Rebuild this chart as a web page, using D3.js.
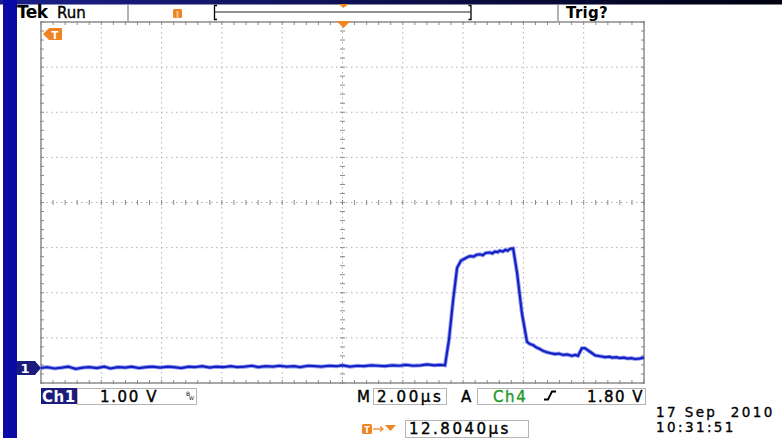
<!DOCTYPE html>
<html>
<head>
<meta charset="utf-8">
<script src="https://cdn.jsdelivr.net/npm/d3@7"></script>
<style>
  body { margin: 0; background: #fff; }
  svg { display: block; }
  text { font-family: "DejaVu Sans", sans-serif; }
</style>
</head>
<body>
<script>
// trace: time in µs from left edge, volts (1.00 V/div)
var traceTime = [0, 0.2, 0.45, 0.7, 0.9, 1.15, 1.4, 1.6, 1.85, 2.1, 2.3, 2.55, 2.8, 3.0, 3.25, 3.5, 3.7, 3.95, 4.2,
  4.4, 4.65, 4.9, 5.1, 5.35, 5.6, 5.8, 6.05, 6.3, 6.5, 6.75, 7.0, 7.2, 7.45, 7.7, 7.9, 8.15, 8.4, 8.6, 8.85,
  9.1, 9.3, 9.55, 9.8, 10.0, 10.25, 10.5, 10.7, 10.95, 11.2, 11.4, 11.65, 11.9, 12.1, 12.35, 12.6, 12.8, 13.05,
  13.25, 13.4,
  13.53, 13.67, 13.80, 13.93, 14.05, 14.15, 14.23, 14.35, 14.45, 14.56, 14.65, 14.75, 14.89, 14.97, 15.05,
  15.15, 15.22, 15.32, 15.4, 15.48, 15.56, 15.66,
  15.79, 15.95, 16.12, 16.22, 16.32, 16.42, 16.55, 16.65, 16.78, 16.9, 17.05, 17.18, 17.31, 17.45, 17.61,
  17.72, 17.81, 17.94, 18.04, 18.12, 18.21, 18.38, 18.55, 18.71, 18.85, 18.95, 19.08, 19.20, 19.33, 19.45,
  19.58, 19.70, 19.85, 20.0];
var traceVolts = [0.00, 0.02, -0.01, 0.01, 0.03, -0.02, 0.01, 0.02, 0.00, 0.03, -0.01, 0.02, 0.01, 0.03, 0.00,
  0.02, 0.03, 0.01, 0.03, 0.02, 0.00, 0.03, 0.02, 0.04, 0.01, 0.03, 0.02, 0.04, 0.02, 0.03, 0.05, 0.02, 0.04,
  0.03, 0.05, 0.03, 0.04, 0.02, 0.05, 0.04, 0.03, 0.05, 0.04, 0.06, 0.03, 0.05, 0.04, 0.06, 0.05, 0.04, 0.06,
  0.05, 0.07, 0.05, 0.06, 0.08, 0.06, 0.07, 0.06,
  0.62, 1.51, 2.22, 2.38, 2.42, 2.46, 2.48, 2.47, 2.51, 2.52, 2.50, 2.55, 2.56, 2.54, 2.58, 2.57, 2.60, 2.58,
  2.62, 2.60, 2.64, 2.65,
  2.11, 1.22, 0.58, 0.53, 0.51, 0.46, 0.42, 0.38, 0.35, 0.33, 0.31, 0.32, 0.29, 0.30, 0.27, 0.29, 0.27, 0.44,
  0.44, 0.40, 0.36, 0.28, 0.26, 0.24, 0.25, 0.23, 0.24, 0.22, 0.23, 0.21, 0.22, 0.20, 0.21, 0.23];

var timeDomain = [0, 20];            // 2.00 µs/div x 10 div
var voltDomain = [-0.332, 7.668];    // 1.00 V/div x 8 div, ground marker 0.33 div up
var hDivs = d3.range(0, 11);
var vDivs = d3.range(0, 9);

var width = 782, height = 438;
var svg = d3.select("body").append("svg").attr("width", width).attr("height", height);

var pLeft = 41, pRight = 644, pTop = 22, pBottom = 383;
var x = d3.scaleLinear().domain(timeDomain).range([pLeft, pRight]);
var y = d3.scaleLinear().domain(voltDomain).range([pBottom, pTop]);
var gx = d3.scaleLinear().domain([0, 10]).range([pLeft, pRight]);
var gy = d3.scaleLinear().domain([0, 8]).range([pBottom, pTop]);

// slide background bits
var defs = svg.append("defs");
var grad = defs.append("linearGradient").attr("id", "topbar");
grad.append("stop").attr("offset", "0%").attr("stop-color", "#1a1f8a");
grad.append("stop").attr("offset", "100%").attr("stop-color", "#000010");
svg.append("rect").attr("x", 0).attr("y", 0).attr("width", width).attr("height", 4.5).attr("fill", "url(#topbar)");
svg.append("rect").attr("x", 3).attr("y", 0).attr("width", 14).attr("height", height).attr("fill", "#0a0aa6");

// graticule
var grid = svg.append("g").attr("class", "grid");
grid.selectAll(".vline").data(hDivs.slice(1, 10)).enter().append("line")
  .attr("x1", function(d) { return gx(d); }).attr("x2", function(d) { return gx(d); })
  .attr("y1", pTop).attr("y2", pBottom)
  .attr("stroke", "#b0b0b0").attr("stroke-width", 1).attr("stroke-dasharray", "1.5,3.5");
grid.selectAll(".hline").data(vDivs.slice(1, 8)).enter().append("line")
  .attr("y1", function(d) { return gy(d); }).attr("y2", function(d) { return gy(d); })
  .attr("x1", pLeft).attr("x2", pRight)
  .attr("stroke", "#b0b0b0").attr("stroke-width", 1).attr("stroke-dasharray", "1.5,3.5");

// minor ticks: 5 per division on frame and centre cross
var hMinor = d3.range(0, 50.01, 1).map(function(d) { return d / 5; });
var vMinor = d3.range(0, 40.01, 1).map(function(d) { return d / 5; });
var tickCol = "#8a8a8a";
function hTicks(yy, len) {
  grid.append("g").selectAll("line").data(hMinor).enter().append("line")
    .attr("x1", function(d) { return gx(d); }).attr("x2", function(d) { return gx(d); })
    .attr("y1", yy - len).attr("y2", yy + len).attr("stroke", tickCol).attr("stroke-width", 1);
}
function vTicks(xx, len) {
  grid.append("g").selectAll("line").data(vMinor).enter().append("line")
    .attr("y1", function(d) { return gy(d); }).attr("y2", function(d) { return gy(d); })
    .attr("x1", xx - len).attr("x2", xx + len).attr("stroke", tickCol).attr("stroke-width", 1);
}
hTicks(pTop + 1, 2); hTicks(pBottom - 1, 2); hTicks(gy(4), 2.5);
vTicks(pLeft + 1, 2); vTicks(pRight - 1, 2); vTicks(gx(5), 2.5);

grid.append("rect").attr("x", pLeft).attr("y", pTop).attr("width", pRight - pLeft).attr("height", pBottom - pTop)
  .attr("fill", "none").attr("stroke", "#8c8c8c").attr("stroke-width", 1.5);

// the waveform
var line = d3.line().x(function(d, i) { return x(traceTime[i]); }).y(function(d) { return y(d); });
svg.append("path").datum(traceVolts).attr("d", line)
  .attr("fill", "none").attr("stroke", "#2e40e6").attr("stroke-width", 4).attr("opacity", 0.5);
svg.append("path").datum(traceVolts).attr("d", line)
  .attr("fill", "none").attr("stroke", "#1422c4").attr("stroke-width", 2.2);

// markers
var orange = "#ef8424";
var g0 = y(0);
svg.append("path")
  .attr("d", "M17," + (g0 - 7) + " L35," + (g0 - 7) + " L41," + g0 + " L35," + (g0 + 7) + " L17," + (g0 + 7) + " Z")
  .attr("fill", "#1c1c7c");
svg.append("text").attr("x", 25).attr("y", g0 + 5).attr("fill", "#fff").attr("font-size", 13)
  .attr("font-weight", "bold").attr("text-anchor", "middle").text("1");

svg.append("path").attr("d", "M43,34 L49,28 L62,28 L62,40 L49,40 Z").attr("fill", orange);
svg.append("text").attr("x", 55).attr("y", 38.5).attr("fill", "#fff").attr("font-size", 10)
  .attr("font-weight", "bold").attr("text-anchor", "middle").text("T");

var trigX = gx(5) + 1;
svg.append("path").attr("d", "M" + (trigX - 7) + ",21 L" + (trigX + 7) + ",21 L" + trigX + ",28 Z").attr("fill", orange);
svg.append("path").attr("d", "M" + (trigX - 5) + ",4 L" + (trigX + 5) + ",4 L" + trigX + ",8 Z").attr("fill", orange);

// header
svg.append("text").attr("x", 17).attr("y", 18).attr("font-size", 17).attr("font-weight", "bold")
  .attr("letter-spacing", -0.5).text("Tek");
svg.append("text").attr("x", 57).attr("y", 18).attr("font-size", 15)
  .attr("stroke", "#000").attr("stroke-width", 0.35).text("Run");
svg.append("line").attr("x1", 128).attr("x2", 128).attr("y1", 5).attr("y2", 21).attr("stroke", "#9a9a9a").attr("stroke-width", 1.5);
svg.append("line").attr("x1", 558).attr("x2", 558).attr("y1", 5).attr("y2", 21).attr("stroke", "#9a9a9a").attr("stroke-width", 1.5);
svg.append("rect").attr("x", 173).attr("y", 9).attr("width", 9).attr("height", 9).attr("rx", 1.5).attr("fill", orange);
svg.append("rect").attr("x", 176.5).attr("y", 11).attr("width", 2).attr("height", 7).attr("fill", "#f8c088");
svg.append("path").attr("d", "M217,5.5 L214.5,5.5 L214.5,19.5 L217,19.5").attr("fill", "none").attr("stroke", "#000").attr("stroke-width", 1.3);
svg.append("path").attr("d", "M468.5,5.5 L471,5.5 L471,19.5 L468.5,19.5").attr("fill", "none").attr("stroke", "#000").attr("stroke-width", 1.3);
svg.append("line").attr("x1", 214.5).attr("x2", 471).attr("y1", 12).attr("y2", 12).attr("stroke", "#222").attr("stroke-width", 1.2);
svg.append("text").attr("x", 566).attr("y", 18).attr("font-size", 15).attr("font-weight", "bold").attr("letter-spacing", 0.3).text("Trig?");

// readouts
function box(x0, x1, y0, y1) {
  svg.append("rect").attr("x", x0).attr("y", y0).attr("width", x1 - x0).attr("height", y1 - y0)
    .attr("fill", "none").attr("stroke", "#b5b5b5").attr("stroke-width", 1);
}
svg.append("rect").attr("x", 41).attr("y", 388).attr("width", 36).attr("height", 16).attr("fill", "#1c1c7c");
box(77.5, 196.5, 388.5, 404.5);
box(373.5, 446.5, 388.5, 404.5);
box(477.5, 645.5, 388.5, 404.5);
box(405.5, 528.5, 420.5, 437.5);

var ro = svg.append("g").attr("font-size", 15).attr("letter-spacing", 1.6)
  .attr("stroke", "#000").attr("stroke-width", 0.4);
ro.append("text").attr("x", 42).attr("y", 401.5).attr("fill", "#fff").attr("stroke", "#fff")
  .attr("font-weight", "bold").attr("letter-spacing", 0.5).attr("stroke-width", 0).text("Ch1");
ro.append("text").attr("x", 100).attr("y", 401.5).text("1.00 V");
svg.append("text").attr("x", 186).attr("y", 396).attr("font-size", 6).text("B");
svg.append("text").attr("x", 189).attr("y", 400).attr("font-size", 5).text("W");
ro.append("text").attr("x", 357).attr("y", 401.5).text("M");
ro.append("text").attr("x", 377).attr("y", 401.5).attr("letter-spacing", 2.6).text("2.00µs");
ro.append("text").attr("x", 461).attr("y", 401.5).text("A");
ro.append("text").attr("x", 493).attr("y", 401.5).attr("fill", "#1f9a2a").attr("stroke", "#1f9a2a").text("Ch4");
svg.append("path").attr("d", "M544,399.5 L548,399.5 L552,391.5 L556,391.5").attr("fill", "none").attr("stroke", "#000").attr("stroke-width", 1.8);
ro.append("text").attr("x", 587).attr("y", 401.5).attr("letter-spacing", 1.4).text("1.80 V");

// horizontal position
svg.append("rect").attr("x", 362).attr("y", 424).attr("width", 10).attr("height", 10).attr("rx", 1.5).attr("fill", orange);
svg.append("text").attr("x", 367).attr("y", 432.5).attr("fill", "#fff").attr("font-size", 8).attr("font-weight", "bold").attr("text-anchor", "middle").text("T");
svg.append("line").attr("x1", 373).attr("x2", 382).attr("y1", 429).attr("y2", 429).attr("stroke", orange).attr("stroke-width", 1.3);
svg.append("path").attr("d", "M380,426.5 L383,429 L380,431.5").attr("fill", "none").attr("stroke", orange).attr("stroke-width", 1.2);
svg.append("path").attr("d", "M385,425 L396,425 L390.5,431 Z").attr("fill", orange);
ro.append("text").attr("x", 409).attr("y", 434).attr("letter-spacing", 2.5).text("12.8040µs");

var dateG = svg.append("g").attr("font-size", 13.5).attr("letter-spacing", 2.4)
  .attr("stroke", "#000").attr("stroke-width", 0.35);
dateG.append("text").attr("x", 656).attr("y", 417).attr("xml:space", "preserve").text("17 Sep  2010");
dateG.append("text").attr("x", 656).attr("y", 432).text("10:31:51");
</script>
</body>
</html>
